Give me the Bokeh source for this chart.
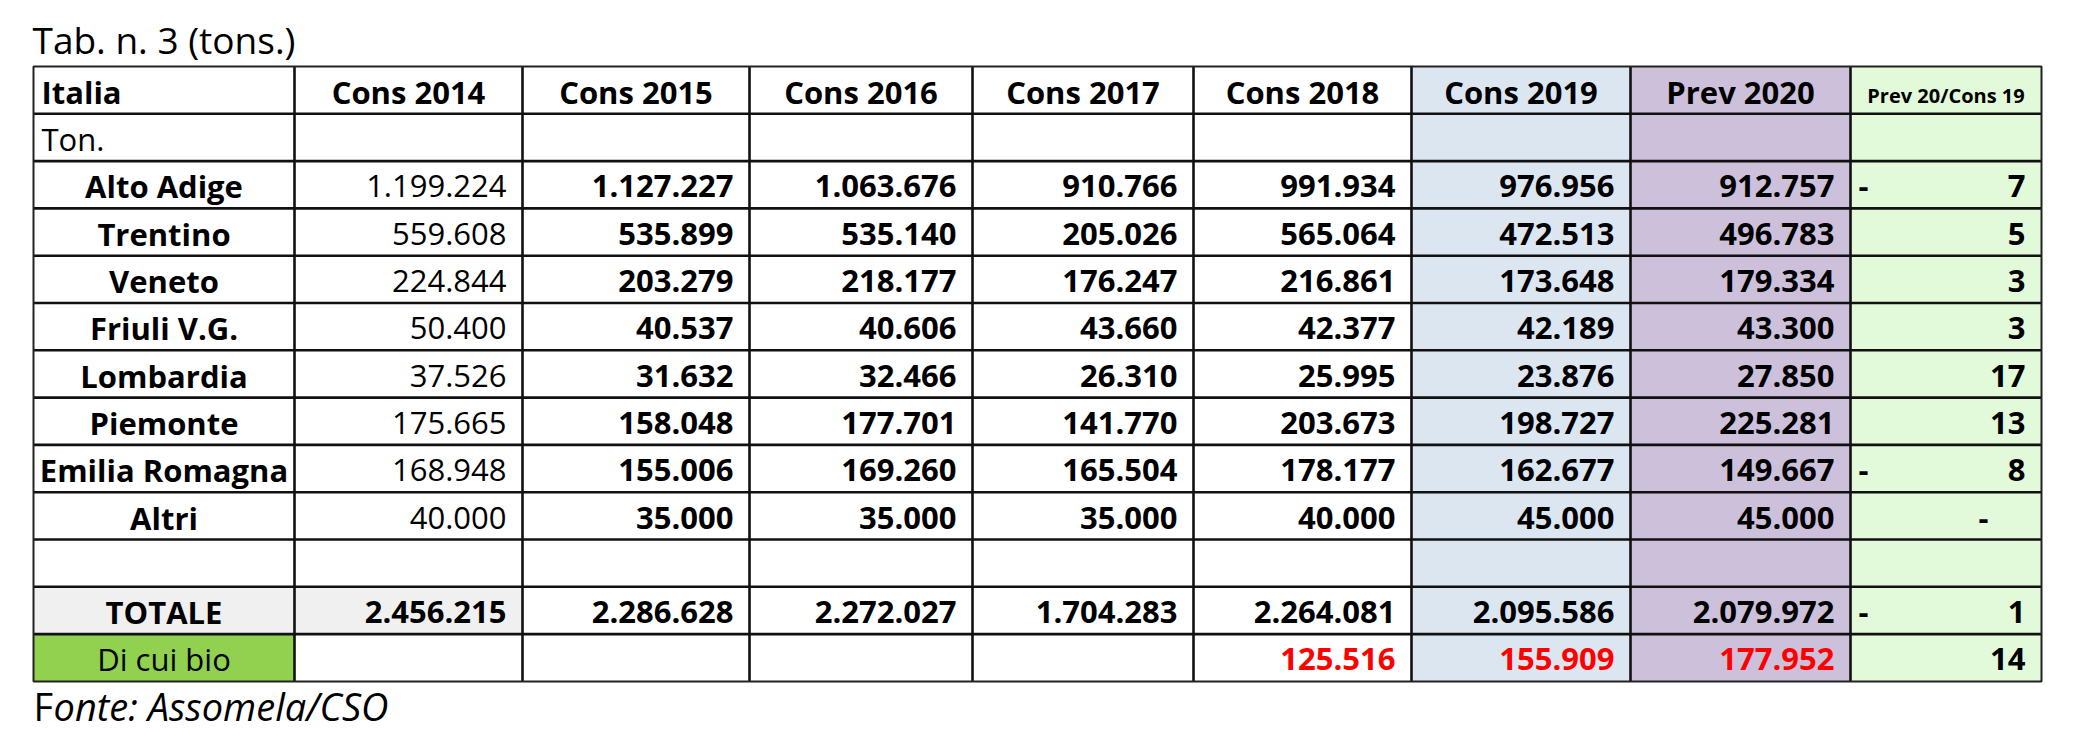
from bokeh.plotting import figure
from bokeh.models import Range1d, ColumnDataSource
from bokeh.embed import file_html
from bokeh.resources import INLINE
from bokeh.core.properties import value

# ---------------- data ----------------
title_text = "Tab. n. 3 (tons.)"
source_prefix = "F"
source_rest = "onte: Assomela/CSO"
headers = ["Italia", "Cons 2014", "Cons 2015", "Cons 2016", "Cons 2017",
           "Cons 2018", "Cons 2019", "Prev 2020", "Prev 20/Cons 19"]
unit_label = "Ton."
regions = ["Alto Adige", "Trentino", "Veneto", "Friuli V.G.", "Lombardia",
           "Piemonte", "Emilia Romagna", "Altri"]
cons2014 = [1199224, 559608, 224844, 50400, 37526, 175665, 168948, 40000]
cons2015 = [1127227, 535899, 203279, 40537, 31632, 158048, 155006, 35000]
cons2016 = [1063676, 535140, 218177, 40606, 32466, 177701, 169260, 35000]
cons2017 = [910766, 205026, 176247, 43660, 26310, 141770, 165504, 35000]
cons2018 = [991934, 565064, 216861, 42377, 25995, 203673, 178177, 40000]
cons2019 = [976956, 472513, 173648, 42189, 23876, 198727, 162677, 45000]
prev2020 = [912757, 496783, 179334, 43300, 27850, 225281, 149667, 45000]
var_pct = [-7, 5, 3, 3, 17, 13, -8, 0]
total_label = "TOTALE"
totals = [2456215, 2286628, 2272027, 1704283, 2264081, 2095586, 2079972]
total_var = -1
bio_label = "Di cui bio"
bio = [None, None, None, None, 125516, 155909, 177952]
bio_var = 14

# ---------------- layout ----------------
FONT = "Open Sans"
FS = "31px"
col_edges = [33, 294, 522, 749, 972, 1193, 1411, 1630, 1850, 2041]
top = 66
row_h = 47.3
n_rows = 13
pad_r = 16
pad_l = 8
base_off = 22  # anchor distance above the row's bottom border (renderer adds ~11px)

col_bg = {6: "#DCE6F1", 7: "#CCC0DA", 8: "#E2FAD9"}


def fmt(v):
    return f"{v:,}".replace(",", ".")


W, H = 2089, 731
p = figure(width=W, height=H, x_range=Range1d(0, W), y_range=Range1d(H, 0),
           output_backend="svg", toolbar_location=None, min_border=0)
p.axis.visible = False
p.grid.visible = False
p.outline_line_color = None
p.background_fill_color = "white"
p.border_fill_color = "white"

# cell backgrounds
ql, qr, qt, qb, qc = [], [], [], [], []
for r in range(n_rows):
    for c in range(9):
        color = col_bg.get(c, "white")
        if r == 11 and c in (0, 1):
            color = "#F0F0F0"
        if r == 12 and c == 0:
            color = "#92D050"
        if color == "white":
            continue
        ql.append(col_edges[c]); qr.append(col_edges[c + 1])
        qt.append(top + r * row_h); qb.append(top + (r + 1) * row_h)
        qc.append(color)
p.quad(left=ql, right=qr, top=qt, bottom=qb, fill_color=qc, line_color=None)

# grid lines
bottom = top + n_rows * row_h
x0s, y0s, x1s, y1s = [], [], [], []
for x in col_edges[1:-1]:
    x0s.append(x); x1s.append(x); y0s.append(top); y1s.append(bottom)
for r in range(1, n_rows):
    y = top + r * row_h
    x0s.append(col_edges[0]); x1s.append(col_edges[-1]); y0s.append(y); y1s.append(y)
p.segment(x0=x0s, y0=y0s, x1=x1s, y1=y1s, line_color="#111111", line_width=2.6)
# outer frame
p.quad(left=[col_edges[0]], right=[col_edges[-1]], top=[top], bottom=[bottom],
       fill_color=None, line_color="#222222", line_width=2.0)

# texts
T = dict(x=[], y=[], text=[], align=[], style=[], color=[], size=[])


def add(x, y, text, align="right", style="bold", color="black", size=FS):
    T["x"].append(x); T["y"].append(y); T["text"].append(text)
    T["align"].append(align); T["style"].append(style)
    T["color"].append(color); T["size"].append(size)


def by(r):
    return top + (r + 1) * row_h - base_off


def cx(c):
    return (col_edges[c] + col_edges[c + 1]) / 2


def rx(c):
    return col_edges[c + 1] - pad_r


def lx(c):
    return col_edges[c] + pad_l


def add_var(r, v):
    if v < 0:
        add(lx(8), by(r), "-", "left")
        add(rx(8), by(r), str(-v))
    elif v == 0:
        add(rx(8) - 37, by(r), "-")
    else:
        add(rx(8), by(r), str(v))


# header
add(lx(0), by(0), headers[0], "left")
for c in range(1, 8):
    add(cx(c), by(0), headers[c], "center")
add(cx(8), by(0) + 4, headers[8], "center", size="20px")
add(lx(0), by(1), unit_label, "left", "normal")

series = [cons2014, cons2015, cons2016, cons2017, cons2018, cons2019, prev2020]
for i, name in enumerate(regions):
    r = 2 + i
    add(cx(0), by(r), name, "center")
    for c, s in enumerate(series):
        add(rx(c + 1), by(r), fmt(s[i]), style="normal" if c == 0 else "bold")
    add_var(r, var_pct[i])

# totals
add(cx(0), by(11), total_label, "center")
for c, v in enumerate(totals):
    add(rx(c + 1), by(11), fmt(v))
add_var(11, total_var)

# bio
add(cx(0), by(12), bio_label, "center", "normal")
for c, v in enumerate(bio):
    if v is not None:
        add(rx(c + 1), by(12), fmt(v), color="#FF0000")
add_var(12, bio_var)

src = ColumnDataSource(T)
p.text(x="x", y="y", text="text", text_align="align", text_font_style="style",
       text_color="color", text_font_size="size", text_baseline="alphabetic",
       text_font=value(FONT), source=src)

# title and source
p.text(x=[32], y=[39], text=[title_text], text_font=value(FONT), text_font_size="37px",
       text_baseline="alphabetic", text_align="left")
p.text(x=[33], y=[705], text=[source_prefix], text_font=value(FONT), text_font_size="38px",
       text_baseline="alphabetic", text_align="left")
p.text(x=[53], y=[705], text=[source_rest], text_font=value(FONT), text_font_size="38px",
       text_baseline="alphabetic", text_align="left", text_font_style="italic")

open("out.html", "w").write(file_html(p, INLINE))
